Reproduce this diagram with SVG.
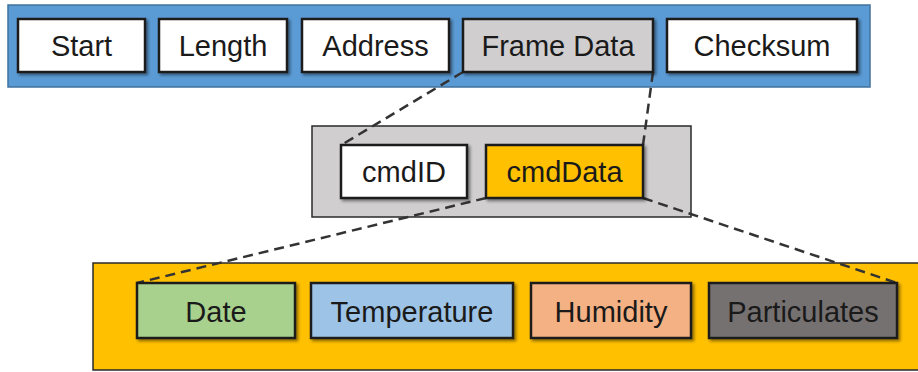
<svg xmlns="http://www.w3.org/2000/svg" width="918" height="372" viewBox="0 0 918 372">
<defs>
<filter id="sh" x="-10%" y="-20%" width="130%" height="150%">
<feDropShadow dx="2" dy="2" stdDeviation="1.5" flood-color="#000" flood-opacity="0.45"/>
</filter>
</defs>
<style>
.box{stroke:#1e1e1e;stroke-width:2.5;filter:url(#sh)}
.cont{stroke:#2a2a2a;stroke-width:1.5}
text{font-family:"Liberation Sans",Arial,sans-serif;font-size:29px;fill:#1a1a1a;text-anchor:middle}
.conn{fill:none;stroke:#333;stroke-width:2.5;stroke-dasharray:10 6}
</style>
<g id="frame">
<rect x="8" y="5" width="862" height="82" fill="#5B9BD5" stroke="#41719C" stroke-width="1.5"/>
</g>
<g id="cmd">
<rect class="cont" x="312" y="126" width="379" height="91" fill="#D0CECE"/>
</g>
<g id="payload">
<rect class="cont" x="93" y="263" width="830" height="107" fill="#FFC000"/>
</g>
<g id="connectors">
<line class="conn" x1="463" y1="72" x2="343" y2="144"/>
<line class="conn" x1="653" y1="72" x2="643" y2="145"/>
<line class="conn" x1="486" y1="198" x2="137" y2="283"/>
<line class="conn" x1="643" y1="198" x2="897" y2="283"/>
</g>
<g id="start"><rect class="box" x="18" y="19" width="127" height="53" fill="#fff"/><text x="81.5" y="56">Start</text></g>
<g id="length"><rect class="box" x="159" y="19" width="128" height="53" fill="#fff"/><text x="223" y="56">Length</text></g>
<g id="address"><rect class="box" x="302" y="19" width="147" height="53" fill="#fff"/><text x="375.5" y="56">Address</text></g>
<g id="framedata"><rect class="box" x="463" y="19" width="190" height="53" fill="#D0CECE"/><text x="558" y="56">Frame Data</text></g>
<g id="checksum"><rect class="box" x="667" y="19" width="190" height="53" fill="#fff"/><text x="762" y="56">Checksum</text></g>
<g id="cmdid"><rect class="box" x="341" y="145" width="126" height="53" fill="#fff"/><text x="404" y="182">cmdID</text></g>
<g id="cmddata"><rect class="box" x="486" y="145" width="157" height="53" fill="#FFC000"/><text x="564.5" y="182">cmdData</text></g>
<g id="date"><rect class="box" x="137" y="283" width="158" height="55" fill="#A9D18E"/><text x="216" y="322">Date</text></g>
<g id="temperature"><rect class="box" x="311" y="283" width="202" height="55" fill="#9DC3E6"/><text x="412" y="322">Temperature</text></g>
<g id="humidity"><rect class="box" x="531" y="283" width="160" height="55" fill="#F4B183"/><text x="611" y="322">Humidity</text></g>
<g id="particulates"><rect class="box" x="709" y="283" width="188" height="55" fill="#767171"/><text x="803" y="322">Particulates</text></g>
</svg>
